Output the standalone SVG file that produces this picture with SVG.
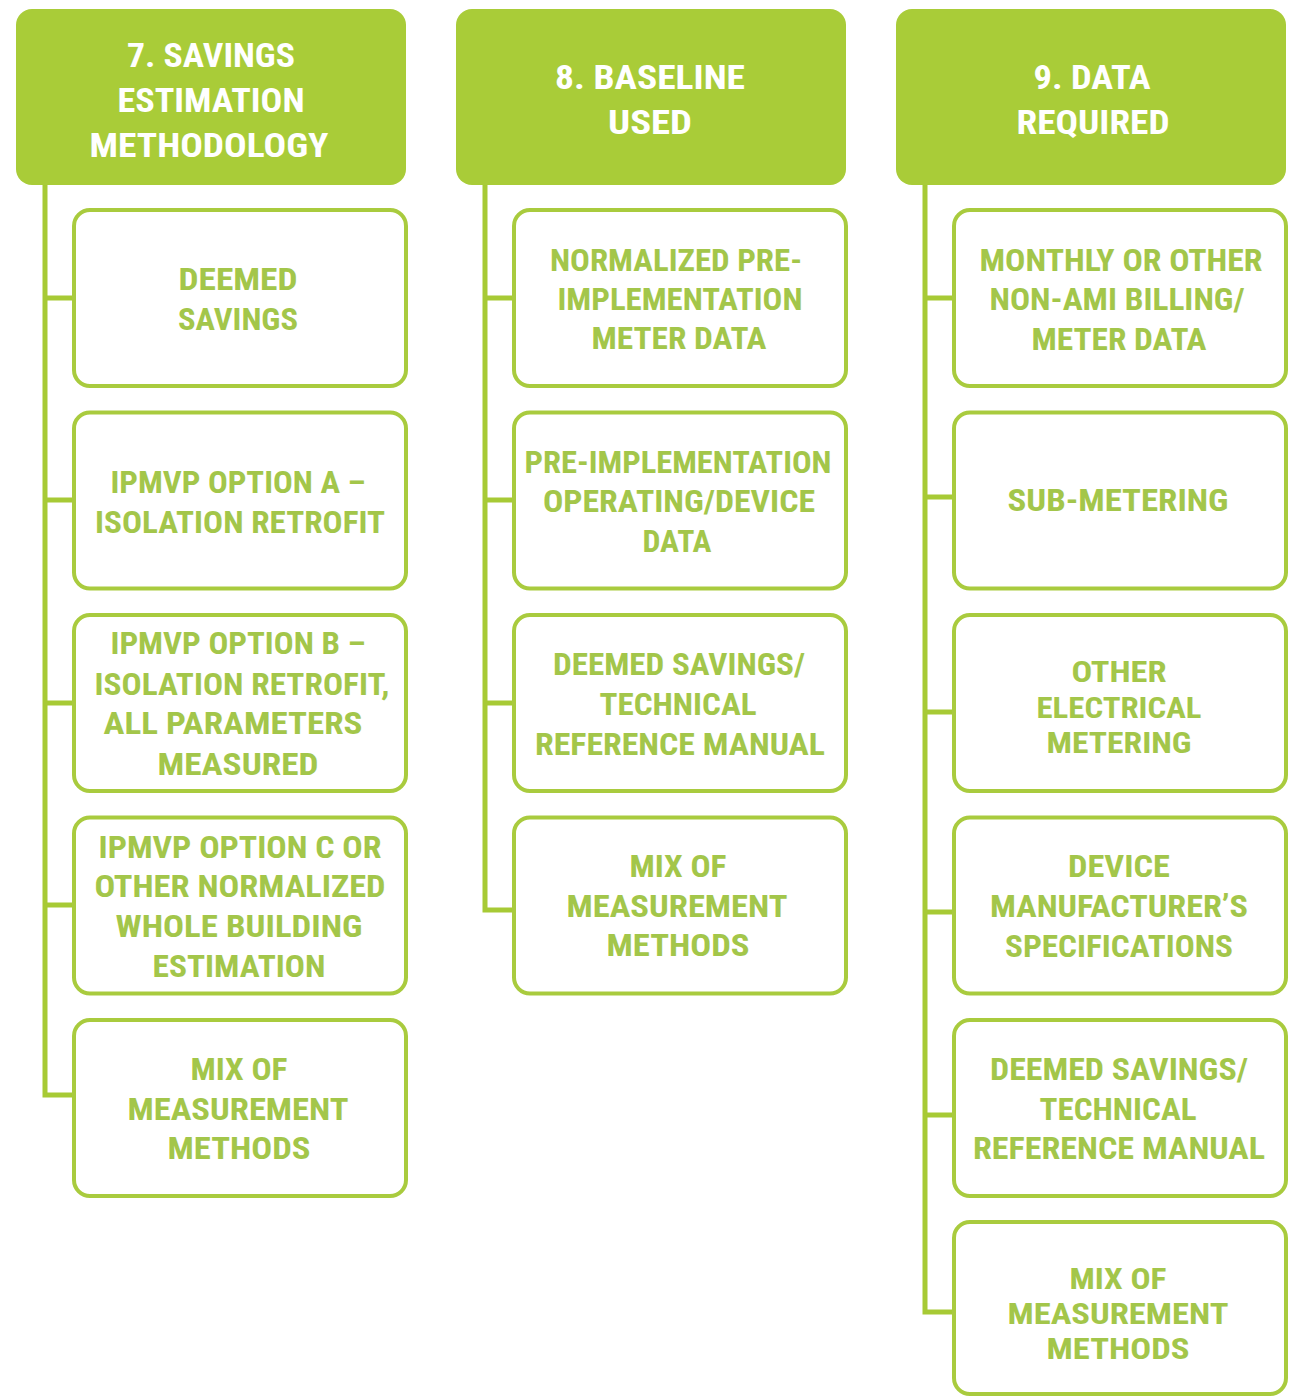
<svg xmlns="http://www.w3.org/2000/svg" width="1299" height="1397" viewBox="0 0 1299 1397">
<style>
.hdr{fill:#a9cc38}
.box{fill:#ffffff;stroke:#a9cb3e;stroke-width:4}
.ht{font-family:"Roboto Condensed","DejaVu Sans Condensed",Roboto,"Liberation Sans",sans-serif;font-weight:700;font-size:34px;fill:#ffffff;text-anchor:middle}
.bt{font-family:"Roboto Condensed","DejaVu Sans Condensed",Roboto,"Liberation Sans",sans-serif;font-weight:700;font-size:32px;fill:#a3c64a;text-anchor:middle}
.tight{font-size:30px}
.con{fill:none;stroke:#a7ca35;stroke-width:5;stroke-linejoin:miter}
</style>
<rect width="1299" height="1397" fill="#ffffff"/>
<g id="connectors">
<path class="con" d="M45 184 V1095 H73 M45 298 H73 M45 500 H73 M45 703 H73 M45 905 H73"/>
<path class="con" d="M485 184 V910 H513 M485 298 H513 M485 500 H513 M485 703 H513"/>
<path class="con" d="M925 184 V1312 H953 M925 298 H953 M925 497 H953 M925 712 H953 M925 912 H953 M925 1115 H953"/>
</g>
<g id="h7"><rect class="hdr" x="16" y="9" width="390" height="176" rx="16"/>
<text class="ht"><tspan x="211" y="67" textLength="168" lengthAdjust="spacingAndGlyphs">7. SAVINGS</tspan><tspan x="211" y="112" textLength="187" lengthAdjust="spacingAndGlyphs">ESTIMATION</tspan><tspan x="209" y="157" textLength="239" lengthAdjust="spacingAndGlyphs">METHODOLOGY</tspan></text></g>
<g id="h8"><rect class="hdr" x="456" y="9" width="390" height="176" rx="16"/>
<text class="ht"><tspan x="650" y="89" textLength="190" lengthAdjust="spacingAndGlyphs">8. BASELINE</tspan><tspan x="650" y="134" textLength="84" lengthAdjust="spacingAndGlyphs">USED</tspan></text></g>
<g id="h9"><rect class="hdr" x="896" y="9" width="390" height="176" rx="16"/>
<text class="ht"><tspan x="1092" y="89" textLength="117" lengthAdjust="spacingAndGlyphs">9. DATA</tspan><tspan x="1093" y="134" textLength="153" lengthAdjust="spacingAndGlyphs">REQUIRED</tspan></text></g>

<g id="n7a"><rect class="box" x="74" y="210" width="332" height="176" rx="16"/>
<text class="bt"><tspan x="238" y="290" textLength="119" lengthAdjust="spacingAndGlyphs">DEEMED</tspan><tspan x="238" y="330" textLength="120" lengthAdjust="spacingAndGlyphs">SAVINGS</tspan></text></g>
<g id="n7b"><rect class="box" x="74" y="412.5" width="332" height="176" rx="16"/>
<text class="bt"><tspan x="238" y="493" textLength="255" lengthAdjust="spacingAndGlyphs">IPMVP OPTION A –</tspan><tspan x="240" y="533" textLength="290" lengthAdjust="spacingAndGlyphs">ISOLATION RETROFIT</tspan></text></g>
<g id="n7c"><rect class="box" x="74" y="615" width="332" height="176" rx="16"/>
<text class="bt"><tspan x="238" y="654" textLength="255" lengthAdjust="spacingAndGlyphs">IPMVP OPTION B –</tspan><tspan x="242" y="695" textLength="295" lengthAdjust="spacingAndGlyphs">ISOLATION RETROFIT,</tspan><tspan x="233" y="734" textLength="259" lengthAdjust="spacingAndGlyphs">ALL PARAMETERS</tspan><tspan x="238" y="775" textLength="161" lengthAdjust="spacingAndGlyphs">MEASURED</tspan></text></g>
<g id="n7d"><rect class="box" x="74" y="817.5" width="332" height="176" rx="16"/>
<text class="bt"><tspan x="240" y="858" textLength="283" lengthAdjust="spacingAndGlyphs">IPMVP OPTION C OR</tspan><tspan x="240" y="897" textLength="291" lengthAdjust="spacingAndGlyphs">OTHER NORMALIZED</tspan><tspan x="239" y="937" textLength="247" lengthAdjust="spacingAndGlyphs">WHOLE BUILDING</tspan><tspan x="239" y="977" textLength="173" lengthAdjust="spacingAndGlyphs">ESTIMATION</tspan></text></g>
<g id="n7e"><rect class="box" x="74" y="1020" width="332" height="176" rx="16"/>
<text class="bt"><tspan x="239" y="1080" textLength="97" lengthAdjust="spacingAndGlyphs">MIX OF</tspan><tspan x="238" y="1120" textLength="221" lengthAdjust="spacingAndGlyphs">MEASUREMENT</tspan><tspan x="239" y="1159" textLength="143" lengthAdjust="spacingAndGlyphs">METHODS</tspan></text></g>

<g id="n8a"><rect class="box" x="514" y="210" width="332" height="176" rx="16"/>
<text class="bt"><tspan x="676" y="271" textLength="252" lengthAdjust="spacingAndGlyphs">NORMALIZED PRE-</tspan><tspan x="680" y="310" textLength="245" lengthAdjust="spacingAndGlyphs">IMPLEMENTATION</tspan><tspan x="679" y="349" textLength="175" lengthAdjust="spacingAndGlyphs">METER DATA</tspan></text></g>
<g id="n8b"><rect class="box" x="514" y="412.5" width="332" height="176" rx="16"/>
<text class="bt"><tspan x="678" y="473" textLength="307" lengthAdjust="spacingAndGlyphs">PRE-IMPLEMENTATION</tspan><tspan x="679" y="512" textLength="272" lengthAdjust="spacingAndGlyphs">OPERATING/DEVICE</tspan><tspan x="677" y="552" textLength="69" lengthAdjust="spacingAndGlyphs">DATA</tspan></text></g>
<g id="n8c"><rect class="box" x="514" y="615" width="332" height="176" rx="16"/>
<text class="bt"><tspan x="679" y="675" textLength="252" lengthAdjust="spacingAndGlyphs">DEEMED SAVINGS/</tspan><tspan x="678" y="715" textLength="157" lengthAdjust="spacingAndGlyphs">TECHNICAL</tspan><tspan x="680" y="755" textLength="290" lengthAdjust="spacingAndGlyphs">REFERENCE MANUAL</tspan></text></g>
<g id="n8d"><rect class="box" x="514" y="817.5" width="332" height="176" rx="16"/>
<text class="bt"><tspan x="678" y="877" textLength="97" lengthAdjust="spacingAndGlyphs">MIX OF</tspan><tspan x="677" y="917" textLength="221" lengthAdjust="spacingAndGlyphs">MEASUREMENT</tspan><tspan x="678" y="956" textLength="143" lengthAdjust="spacingAndGlyphs">METHODS</tspan></text></g>

<g id="n9a"><rect class="box" x="954" y="210" width="332" height="176" rx="16"/>
<text class="bt"><tspan x="1121" y="271" textLength="283" lengthAdjust="spacingAndGlyphs">MONTHLY OR OTHER</tspan><tspan x="1117" y="310" textLength="255" lengthAdjust="spacingAndGlyphs">NON-AMI BILLING/</tspan><tspan x="1119" y="350" textLength="175" lengthAdjust="spacingAndGlyphs">METER DATA</tspan></text></g>
<g id="n9b"><rect class="box" x="954" y="412.5" width="332" height="176" rx="16"/>
<text class="bt"><tspan x="1118" y="511" textLength="221" lengthAdjust="spacingAndGlyphs">SUB-METERING</tspan></text></g>
<g id="n9c"><rect class="box" x="954" y="615" width="332" height="176" rx="16"/>
<text class="bt tight"><tspan x="1119" y="682" textLength="95" lengthAdjust="spacingAndGlyphs">OTHER</tspan><tspan x="1119" y="718" textLength="165" lengthAdjust="spacingAndGlyphs">ELECTRICAL</tspan><tspan x="1119" y="753" textLength="145" lengthAdjust="spacingAndGlyphs">METERING</tspan></text></g>
<g id="n9d"><rect class="box" x="954" y="817.5" width="332" height="176" rx="16"/>
<text class="bt"><tspan x="1119" y="877" textLength="102" lengthAdjust="spacingAndGlyphs">DEVICE</tspan><tspan x="1119" y="917" textLength="258" lengthAdjust="spacingAndGlyphs">MANUFACTURER’S</tspan><tspan x="1119" y="957" textLength="228" lengthAdjust="spacingAndGlyphs">SPECIFICATIONS</tspan></text></g>
<g id="n9e"><rect class="box" x="954" y="1020" width="332" height="176" rx="16"/>
<text class="bt"><tspan x="1119" y="1080" textLength="258" lengthAdjust="spacingAndGlyphs">DEEMED SAVINGS/</tspan><tspan x="1118" y="1120" textLength="157" lengthAdjust="spacingAndGlyphs">TECHNICAL</tspan><tspan x="1119" y="1159" textLength="292" lengthAdjust="spacingAndGlyphs">REFERENCE MANUAL</tspan></text></g>
<g id="n9f"><rect class="box" x="954" y="1222" width="332" height="172" rx="16"/>
<text class="bt tight"><tspan x="1118" y="1289" textLength="97" lengthAdjust="spacingAndGlyphs">MIX OF</tspan><tspan x="1118" y="1324" textLength="221" lengthAdjust="spacingAndGlyphs">MEASUREMENT</tspan><tspan x="1118" y="1359" textLength="143" lengthAdjust="spacingAndGlyphs">METHODS</tspan></text></g>
</svg>
